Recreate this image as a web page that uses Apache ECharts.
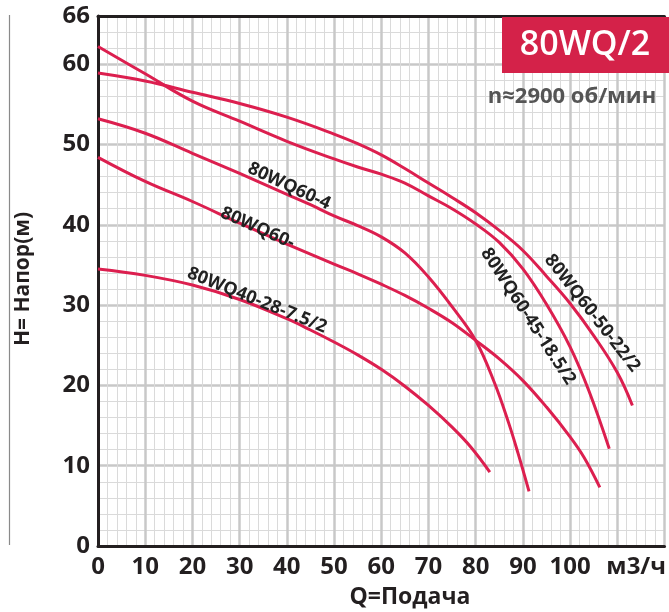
<!DOCTYPE html>
<html>
<head>
<meta charset="utf-8">
<script src="https://cdn.jsdelivr.net/npm/echarts/dist/echarts.min.js"></script>
<style>
html,body{margin:0;padding:0;background:#fff;}
#c{width:669px;height:612px;}
</style>
</head>
<body>
<div id="c"></div>
<script>
// ---- data (Q m3/h, H m) ----
const curve_60_50_22 = [[0,58.9],[10,57.9],[20,56.5],[30,55.1],[40,53.4],[50,51.3],[55,50.1],[60,48.7],[65,47.0],[70,45.2],[75,43.4],[80,41.5],[85,39.3],[90,36.8],[95,33.6],[100,30.2],[105,26.2],[110,21.6],[113.2,17.5]];
const curve_60_45_18 = [[0,62.2],[10,58.8],[20,55.4],[30,52.9],[40,50.4],[50,48.2],[55,47.2],[60,46.3],[65,45.2],[70,43.6],[75,42.0],[80,40.1],[85,37.8],[90,34.5],[95,30.1],[100,24.8],[104,19.3],[108.3,12.1]];
const curve_60_4 = [[0,53.2],[10,51.4],[20,48.9],[30,46.4],[40,43.8],[45,42.5],[50,41.1],[55,39.9],[60,38.5],[65,36.5],[70,33.5],[75,29.8],[80,25.6],[84,20.3],[87,15.3],[89,11.5],[91.3,6.8]];
const curve_60_ = [[0,48.4],[10,45.4],[20,42.9],[30,40.2],[40,37.6],[50,35.1],[55,33.9],[60,32.6],[65,31.2],[70,29.6],[75,27.8],[80,25.6],[85,23.3],[90,20.6],[95,17.3],[100,13.6],[103,11.0],[106.3,7.3]];
const curve_40_28 = [[0,34.5],[10,33.7],[20,32.5],[30,30.7],[40,28.3],[45,26.9],[50,25.4],[55,23.8],[60,22.0],[65,19.9],[70,17.5],[75,14.8],[79,12.3],[83,9.2]];

const seriesNames = ['80WQ60-50-22/2','80WQ60-45-18.5/2','80WQ60-4','80WQ60-','80WQ40-28-7.5/2'];
const seriesData = [curve_60_50_22, curve_60_45_18, curve_60_4, curve_60_, curve_40_28];

// curve label anchors [Q, H, angleDeg]
const labelTexts = ['80WQ60-50-22/2','80WQ60-45-18.5/2','80WQ60-4','80WQ60-','80WQ40-28-7.5/2'];
const labelAnchors = [[104.7,29.0,52],[91.1,28.6,57],[40.5,44.8,25],[33.8,39.6,24],[33.7,30.6,22]];

const xTickMax = 100;
const unitLabel = 'м3/ч';
const unitAt = 114;
const yTopLabel = 66;

const titleText = '80WQ/2';
const subtitleText = 'n≈2900 об/мин';
const xName = 'Q=Подача';
const yName = 'H= Напор(м)';

const RED = '#dc1f4f';
const DARK = '#231f20';
const FONT = '"Open Sans", sans-serif';

const chart = echarts.init(document.getElementById('c'), null, {renderer:'canvas'});

const minorLine = {show:true, lineStyle:{color:'#dadada', width:1}};
const majorLine = {show:true, lineStyle:{color:'#c8c8c8', width:2.5}};

chart.setOption({
  animation:false,
  backgroundColor:'#fff',
  grid:{left:98, right:0, top:16, bottom:66, containLabel:false},
  xAxis:[
    {type:'value', min:0, max:120, interval:2, position:'bottom',
     axisLine:{show:true, onZero:false, lineStyle:{color:DARK, width:3}},
     axisTick:{show:false},
     axisLabel:{show:true, margin:9, color:DARK, fontSize:24, fontWeight:'bold', fontFamily:FONT,
       formatter:function(v){ if(v%10===0 && v<=xTickMax) return String(v); if(v===unitAt) return unitLabel; return ''; }},
     splitLine:minorLine},
    {type:'value', min:0, max:120, interval:10, position:'top',
     axisLine:{show:true, onZero:false, lineStyle:{color:DARK, width:3}},
     axisTick:{show:false}, axisLabel:{show:false},
     splitLine:majorLine}
  ],
  yAxis:[
    {type:'value', min:0, max:66, interval:2, position:'left',
     axisLine:{show:true, onZero:false, lineStyle:{color:DARK, width:3}},
     axisTick:{show:false},
     axisLabel:{show:true, margin:8, color:DARK, fontSize:24, fontWeight:'bold', fontFamily:FONT,
       formatter:function(v){ return (v%10===0 || v===yTopLabel) ? String(v) : ''; }},
     splitLine:minorLine},
    {type:'value', min:0, max:66, interval:10, position:'left',
     axisLine:{show:false}, axisTick:{show:false}, axisLabel:{show:false},
     splitLine:majorLine}
  ],
  series: seriesData.map(function(d,i){
    return {type:'line', name:seriesNames[i], data:d, xAxisIndex:0, yAxisIndex:0,
      showSymbol:false, smooth:0.4, z:5,
      lineStyle:{color:RED, width:3}};
  })
});

const g = [];
labelTexts.forEach(function(t,i){
  const a = labelAnchors[i];
  const p = chart.convertToPixel({xAxisIndex:0, yAxisIndex:0}, [a[0], a[1]]);
  g.push({type:'text', x:p[0], y:p[1], rotation:-a[2]*Math.PI/180, z:20,
    style:{text:t, fill:'#222', font:'bold 18px "Open Sans", sans-serif',
      align:'center', verticalAlign:'middle', textAlign:'center', textVerticalAlign:'middle'}});
});
// title box
g.push({type:'rect', shape:{x:502, y:17, width:167, height:56}, style:{fill:'#d42249'}, z:20});
g.push({type:'text', x:585, y:45, z:21,
  style:{text:titleText, fill:'#fff', font:'600 34px "Open Sans", sans-serif',
    align:'center', verticalAlign:'middle', textAlign:'center', textVerticalAlign:'middle'}});
g.push({type:'text', x:572, y:97, z:21,
  style:{text:subtitleText, fill:'#555', font:'bold 22px "Open Sans", sans-serif',
    align:'center', verticalAlign:'middle', textAlign:'center', textVerticalAlign:'middle'}});
// axis names
g.push({type:'text', x:410, y:597, z:21,
  style:{text:xName, fill:DARK, font:'bold 23px "Open Sans", sans-serif',
    align:'center', verticalAlign:'middle', textAlign:'center', textVerticalAlign:'middle'}});
g.push({type:'text', x:23, y:279, rotation:Math.PI/2, z:21,
  style:{text:yName, fill:DARK, font:'bold 21px "Open Sans", sans-serif',
    align:'center', verticalAlign:'middle', textAlign:'center', textVerticalAlign:'middle'}});
g.push({type:'line', shape:{x1:9.5, y1:15, x2:9.5, y2:545}, style:{stroke:'#8a8a8a', lineWidth:1.2}, z:21});

chart.setOption({graphic:g});
</script>
</body>
</html>
